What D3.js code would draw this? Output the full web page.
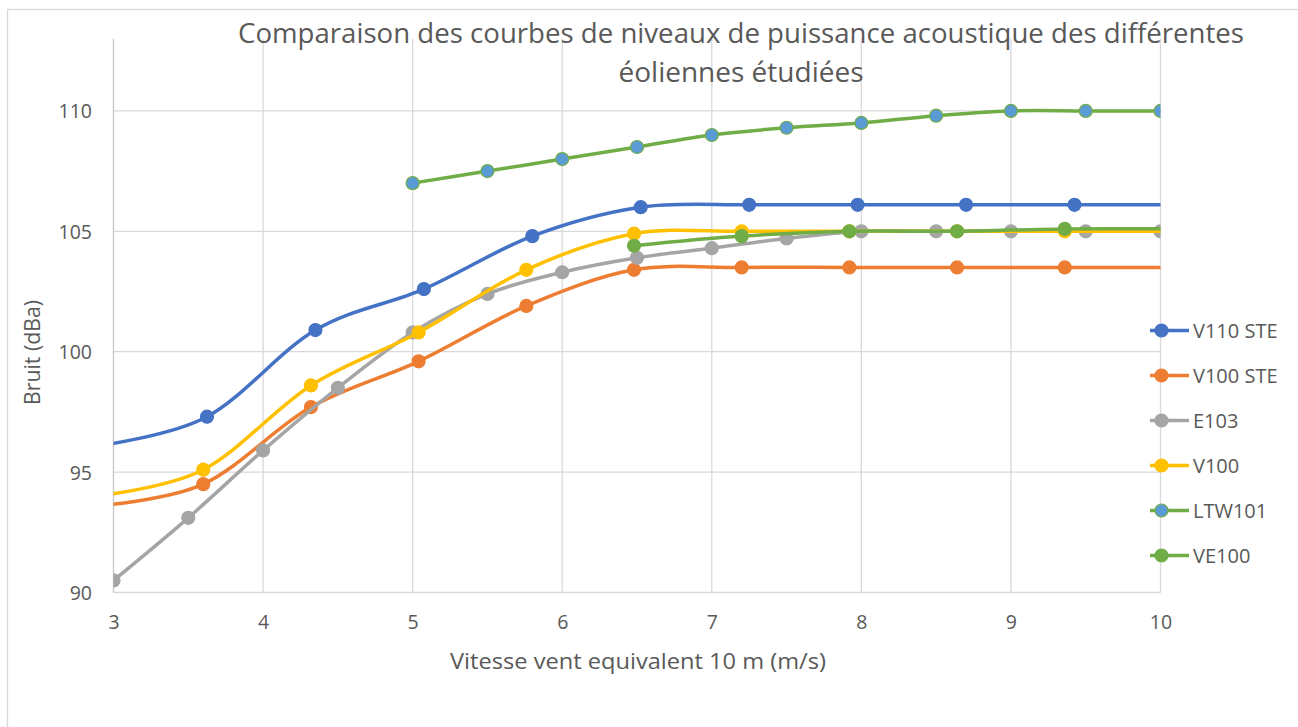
<!DOCTYPE html>
<html>
<head>
<meta charset="utf-8">
<script src="https://cdn.jsdelivr.net/npm/d3@7"></script>
<style>
  html, body { margin: 0; padding: 0; background: #fff; }
  svg { display: block; }
  text { font-family: "Open Sans", "Liberation Sans", sans-serif; fill: #595959; }
</style>
</head>
<body>
<svg id="chart" width="1298" height="727"></svg>
<script>
// ---- Data ----
const titleLines = ["Comparaison des courbes de niveaux de puissance acoustique des différentes", "éoliennes étudiées"];
const xAxisTitle = "Vitesse vent equivalent 10 m (m/s)";
const yAxisTitle = "Bruit (dBa)";
const xTicks = [3, 4, 5, 6, 7, 8, 9, 10];
const yTicks = [90, 95, 100, 105, 110];

const seriesNames = ["V110 STE", "V100 STE", "E103", "V100", "LTW101", "VE100"];

const v110steX = [2.9, 3.625, 4.35, 5.075, 5.8, 6.525, 7.25, 7.975, 8.7, 9.425, 10.15];
const v110steY = [96.1, 97.3, 100.9, 102.6, 104.8, 106.0, 106.1, 106.1, 106.1, 106.1, 106.1];

const v100steX = [2.88, 3.6, 4.32, 5.04, 5.76, 6.48, 7.2, 7.92, 8.64, 9.36, 10.08];
const v100steY = [93.6, 94.5, 97.7, 99.6, 101.9, 103.4, 103.5, 103.5, 103.5, 103.5, 103.5];

const e103X = [3, 3.5, 4, 4.5, 5, 5.5, 6, 6.5, 7, 7.5, 8, 8.5, 9, 9.5, 10];
const e103Y = [90.5, 93.1, 95.9, 98.5, 100.8, 102.4, 103.3, 103.9, 104.3, 104.7, 105.0, 105.0, 105.0, 105.0, 105.0];

const v100X = [2.88, 3.6, 4.32, 5.04, 5.76, 6.48, 7.2, 7.92, 8.64, 9.36, 10.08];
const v100Y = [94.0, 95.1, 98.6, 100.8, 103.4, 104.9, 105.0, 105.0, 105.0, 105.0, 105.0];

const ltw101X = [5, 5.5, 6, 6.5, 7, 7.5, 8, 8.5, 9, 9.5, 10];
const ltw101Y = [107.0, 107.5, 108.0, 108.5, 109.0, 109.3, 109.5, 109.8, 110.0, 110.0, 110.0];

const ve100X = [6.48, 7.2, 7.92, 8.64, 9.36, 10.08];
const ve100Y = [104.4, 104.8, 105.0, 105.0, 105.1, 105.1];

// ---- Styles ----
const lineColors = ["#4472C4", "#ED7D31", "#A5A5A5", "#FFC000", "#70AD47", "#70AD47"];
const markerFills = ["#4472C4", "#ED7D31", "#A5A5A5", "#FFC000", "#5B9BD5", "#70AD47"];
const markerStrokes = ["#4472C4", "#ED7D31", "#A5A5A5", "#FFC000", "#70AD47", "#70AD47"];

const series = [
  [v110steX, v110steY], [v100steX, v100steY], [e103X, e103Y],
  [v100X, v100Y], [ltw101X, ltw101Y], [ve100X, ve100Y]
].map(([xs, ys], i) => ({
  name: seriesNames[i],
  points: xs.map((x, j) => ({ x, y: ys[j] })),
  line: lineColors[i], fill: markerFills[i], stroke: markerStrokes[i]
}));

const svg = d3.select("#chart");

// chart border (only top/left visible in picture)
svg.append("rect").attr("x", 7.5).attr("y", 9.5).attr("width", 1400).attr("height", 900)
  .attr("fill", "none").attr("stroke", "#d9d9d9").attr("stroke-width", 1.3);

const x = d3.scaleLinear().domain([3, 10]).range([113.5, 1160.5]);
const y = d3.scaleLinear().domain([90, 113]).range([592.5, 592.5 - 23 * 24.08]);

// gridlines
const grid = svg.append("g");
grid.selectAll("line.h").data(yTicks).join("line").attr("class", "h")
  .attr("x1", x(3)).attr("x2", x(10)).attr("y1", d => y(d)).attr("y2", d => y(d))
  .attr("stroke", "#d9d9d9").attr("stroke-width", 1.3);
grid.selectAll("line.v").data(xTicks).join("line").attr("class", "v")
  .attr("x1", d => x(d)).attr("x2", d => x(d)).attr("y1", y(113)).attr("y2", y(90))
  .attr("stroke", d => d === 3 ? "#c6c6c6" : "#d9d9d9").attr("stroke-width", 1.3);

// axes (labels only; lines handled by grid)
const xAxis = d3.axisBottom(x).tickValues(xTicks).tickSize(0).tickPadding(0).tickFormat(d3.format("d"));
const gx = svg.append("g").attr("transform", `translate(0,${y(90)})`).call(xAxis);
gx.select(".domain").remove();
gx.selectAll("text").attr("y", 36.5).attr("dy", null).style("font-size", "19.5px").attr("fill", "#595959");

const yAxis = d3.axisLeft(y).tickValues(yTicks).tickSize(0).tickPadding(0).tickFormat(d3.format("d"));
const gy = svg.append("g").attr("transform", `translate(92,0)`).call(yAxis);
gy.select(".domain").remove();
gy.selectAll("text").attr("x", 0).attr("dy", "0.36em").style("font-size", "19.5px").attr("fill", "#595959");

// axis titles
svg.append("text").attr("x", 638).attr("y", 669).attr("text-anchor", "middle")
  .style("font-size", "21px").attr("textLength", 376).attr("lengthAdjust", "spacingAndGlyphs").text(xAxisTitle);
svg.append("text").attr("transform", "translate(39.5,352.5) rotate(-90)").attr("text-anchor", "middle")
  .style("font-size", "21px").attr("textLength", 105).attr("lengthAdjust", "spacingAndGlyphs").text(yAxisTitle);

// title
svg.append("text").attr("x", 741).attr("y", 43).attr("text-anchor", "middle")
  .style("font-size", "27px")
  .attr("textLength", 1006).attr("lengthAdjust", "spacingAndGlyphs").text(titleLines[0]);
svg.append("text").attr("x", 741).attr("y", 82).attr("text-anchor", "middle")
  .style("font-size", "27px")
  .attr("textLength", 245).attr("lengthAdjust", "spacingAndGlyphs").text(titleLines[1]);

// clip
svg.append("clipPath").attr("id", "plotclip").append("rect")
  .attr("x", x(3)).attr("y", 0).attr("width", x(10) - x(3)).attr("height", y(90) + 10);

const lineGen = d3.line().x(d => x(d.x)).y(d => y(d.y)).curve(d3.curveCardinal.tension(0));

const plot = svg.append("g").attr("clip-path", "url(#plotclip)");
series.forEach(s => {
  const g = plot.append("g");
  g.append("path").datum(s.points).attr("d", lineGen)
    .attr("fill", "none").attr("stroke", s.line).attr("stroke-width", 3.5)
    .attr("stroke-linejoin", "round").attr("stroke-linecap", "round");
  g.selectAll("circle").data(s.points.filter(p => p.x >= 3 && p.x <= 10)).join("circle")
    .attr("cx", d => x(d.x)).attr("cy", d => y(d.y)).attr("r", 6.5)
    .attr("fill", s.fill).attr("stroke", s.stroke).attr("stroke-width", 1.2);
});

// legend
const legendY = [330.5, 375.5, 420.5, 465.5, 510.5, 555.5];
const lg = svg.append("g");
series.forEach((s, i) => {
  const g = lg.append("g").attr("transform", `translate(0,${legendY[i]})`);
  g.append("line").attr("x1", 1150).attr("x2", 1189).attr("y1", 0).attr("y2", 0)
    .attr("stroke", s.line).attr("stroke-width", 3.5);
  g.append("circle").attr("cx", 1161.5).attr("cy", 0).attr("r", 6.5)
    .attr("fill", s.fill).attr("stroke", s.stroke).attr("stroke-width", 1.2);
  g.append("text").attr("x", 1193).attr("y", 0).attr("dy", "0.36em")
    .style("font-size", "20px").text(s.name);
});
</script>
</body>
</html>
